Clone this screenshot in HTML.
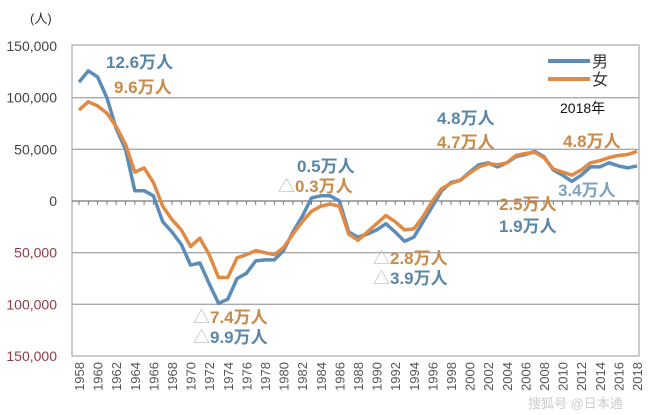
<!DOCTYPE html>
<html><head><meta charset="utf-8">
<style>
html,body{margin:0;padding:0;background:#fff;}
svg{display:block;font-family:"Liberation Sans","Noto Sans CJK JP",sans-serif;}
</style></head>
<body>
<svg id="chart" width="650" height="415" viewBox="0 0 650 415" xmlns="http://www.w3.org/2000/svg">
<g id="grid"></g>
<g id="yaxis"></g>
<g id="xaxis"></g>
<g id="series"></g>
<text x="30" y="23" font-size="13" fill="#333">(人)</text>
<g>
  <line x1="548" y1="61" x2="590" y2="61" stroke="#5b8db8" stroke-width="4"/>
  <text x="592" y="67" font-size="16" fill="#333">男</text>
  <line x1="548" y1="79" x2="590" y2="79" stroke="#e08a45" stroke-width="4"/>
  <text x="592" y="85" font-size="16" fill="#333">女</text>
</g>
<text x="560" y="113" font-size="14" fill="#111">2018年</text>
<g font-weight="bold" font-size="17">
  <text x="106" y="68" fill="#5a87a8">12.6万人</text>
  <text x="114" y="93" fill="#c98a4a">9.6万人</text>
  <text x="297" y="172" fill="#5a87a8">0.5万人</text>
  <text x="278" y="192" fill="#c98a4a"><tspan fill="#bbb" font-weight="normal">△</tspan>0.3万人</text>
  <text x="437" y="124" fill="#5a87a8">4.8万人</text>
  <text x="437" y="148" fill="#c98a4a">4.7万人</text>
  <text x="563" y="147" fill="#c98a4a">4.8万人</text>
  <text x="558" y="196" fill="#7fa4c2">3.4万人</text>
  <text x="499" y="210" fill="#c98a4a">2.5万人</text>
  <text x="499" y="232" fill="#5a87a8">1.9万人</text>
  <text x="373" y="264" fill="#c98a4a"><tspan fill="#bbb" font-weight="normal">△</tspan>2.8万人</text>
  <text x="373" y="284" fill="#5a87a8"><tspan fill="#bbb" font-weight="normal">△</tspan>3.9万人</text>
  <text x="193" y="323" fill="#c98a4a"><tspan fill="#bbb" font-weight="normal">△</tspan>7.4万人</text>
  <text x="193" y="343" fill="#5a87a8"><tspan fill="#bbb" font-weight="normal">△</tspan>9.9万人</text>
</g>
<text x="528" y="408" font-size="13" fill="#ccc">搜狐号 @日本通</text>
</svg>
<script>
const years = [];
for (let y = 1958; y <= 2018; y++) years.push(y);
const maleValues = [115000,126000,120000,100000,70000,50000,10000,10000,5000,-20000,-30000,-42000,-62000,-60000,-80000,-99000,-95000,-75000,-70000,-58000,-57000,-57000,-48000,-30000,-15000,3000,5000,5000,0,-30000,-35000,-32000,-28000,-22000,-30000,-39000,-35000,-20000,-5000,10000,18000,20000,28000,35000,37000,33000,37000,43000,45000,48000,43000,30000,25000,19000,25000,33000,33000,37000,34000,32000,34000];
const femaleValues = [88000,96000,92000,85000,72000,55000,28000,32000,18000,-5000,-18000,-28000,-44000,-36000,-52000,-74000,-74000,-55000,-52000,-48000,-50000,-52000,-45000,-32000,-20000,-10000,-5000,-3000,-5000,-32000,-38000,-30000,-22000,-14000,-20000,-28000,-27000,-15000,0,12000,17000,20000,27000,33000,36000,35000,37000,44000,46000,47000,42000,31000,28000,25000,30000,37000,39000,42000,44000,45000,48000];
const yTicks = [150000,100000,50000,0,-50000,-100000,-150000];
const yTickLabels = ["150,000","100,000","50,000","0","50,000","100,000","150,000"];

const NS = "http://www.w3.org/2000/svg";
const plotL = 72, plotR = 639, plotT = 45, plotB = 356;
const x = yr => 79 + (yr - 1958) * (637 - 79) / 60;
const y = v => 201 - v * (plotB - 201) / 150000;
function mk(tag, attrs, parent) {
  const e = document.createElementNS(NS, tag);
  for (const k in attrs) e.setAttribute(k, attrs[k]);
  parent.appendChild(e);
  return e;
}
const grid = document.getElementById('grid');
const yaxis = document.getElementById('yaxis');
const xaxis = document.getElementById('xaxis');
const series = document.getElementById('series');

const frame = mk('rect', {x: plotL, y: plotT, width: plotR - plotL, height: plotB - plotT, fill: 'none', stroke: '#aaa', 'stroke-width': 1.2}, grid);



yTicks.forEach((v, i) => {
  if (v !== 150000 && v !== -150000) {
    const gl = mk('line', {x1: plotL, x2: plotR, y1: y(v), y2: y(v), stroke: v === 0 ? '#777' : '#aaa', 'stroke-width': 1.3}, grid);
    
    
  }
  const t = mk('text', {x: 57, y: y(v) + 5, 'text-anchor': 'end', 'font-size': 14, fill: v < 0 ? '#8e3b46' : '#444'}, yaxis);
  t.textContent = yTickLabels[i];
  
  
});

years.forEach(yr => {
  const tk = mk('line', {x1: x(yr), x2: x(yr), y1: 201, y2: 205, stroke: '#777', 'stroke-width': 1}, xaxis);
  
  
  if ((yr - 1958) % 2 === 0) {
    const t = mk('text', {x: 0, y: 0, 'font-size': 13, fill: '#555', 'text-anchor': 'end', transform: `translate(${x(yr) + 5},362) rotate(-90)`}, xaxis);
    t.textContent = yr;
    
    
  }
});

function line(vals, color, name) {
  const d = vals.map((v, i) => (i ? 'L' : 'M') + x(years[i]).toFixed(1) + ',' + y(v).toFixed(1)).join(' ');
  const p = mk('path', {d: d, fill: 'none', stroke: color, 'stroke-width': 3.5, 'stroke-linejoin': 'round'}, series);
  
  
}
line(maleValues, '#5b8db8', 'male-line');
line(femaleValues, '#e08a45', 'female-line');
</script>
</body></html>
